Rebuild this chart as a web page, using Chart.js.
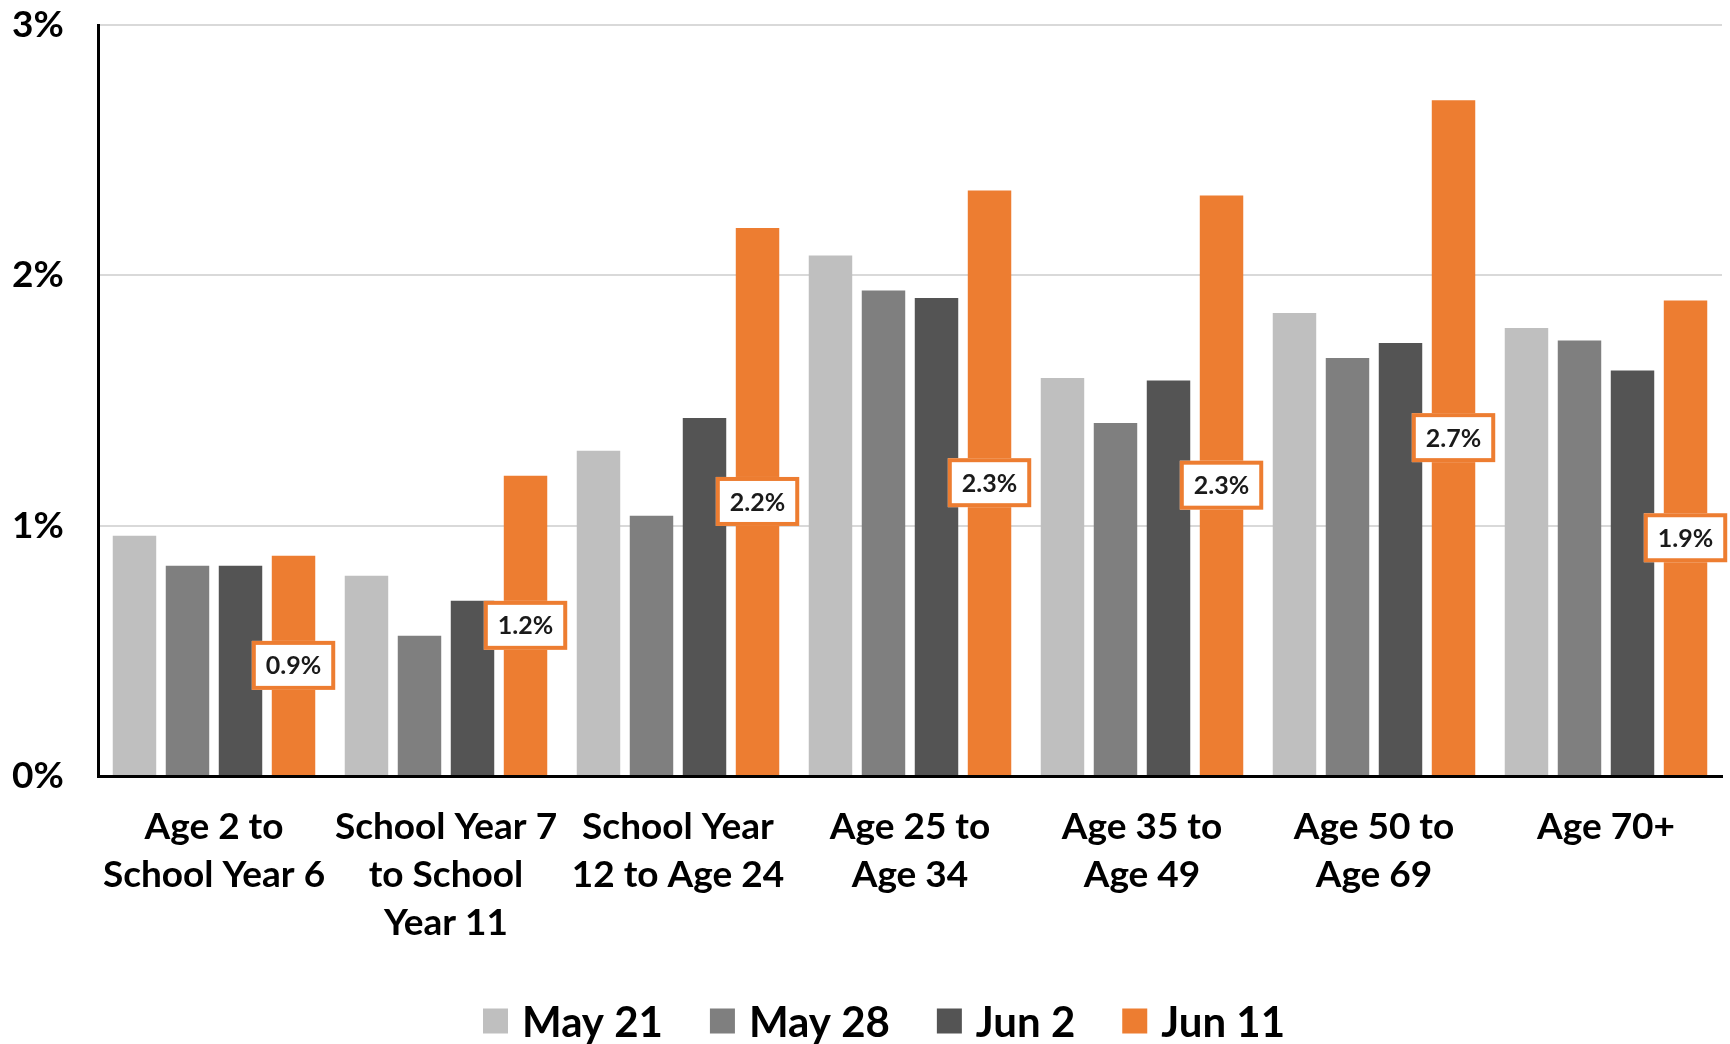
<!DOCTYPE html>
<html>
<head>
<meta charset="utf-8">
<script src="https://cdn.jsdelivr.net/npm/chart.js@4.4.1/dist/chart.umd.min.js"></script>
<style>
  body { margin: 0; background: #fff; }
  #wrap { width: 1730px; height: 1044px; }
</style>
</head>
<body>
<div id="wrap"><canvas id="ageChart"></canvas></div>
<script>
const categories = [
    ['Age 2 to', 'School Year 6'],
    ['School Year 7', 'to School', 'Year 11'],
    ['School Year', '12 to Age 24'],
    ['Age 25 to', 'Age 34'],
    ['Age 35 to', 'Age 49'],
    ['Age 50 to', 'Age 69'],
    ['Age 70+']
];
const seriesNames = ['May 21', 'May 28', 'Jun 2', 'Jun 11'];
const may21 = [0.96, 0.80, 1.30, 2.08, 1.59, 1.85, 1.79];
const may28 = [0.84, 0.56, 1.04, 1.94, 1.41, 1.67, 1.74];
const jun2  = [0.84, 0.70, 1.43, 1.91, 1.58, 1.73, 1.62];
const jun11 = [0.88, 1.20, 2.19, 2.34, 2.32, 2.70, 1.90];
const yTickValues = [0, 1, 2, 3];
const colors = ['#bfbfbf', '#7f7f7f', '#545454', '#ed7d31'];

const FONT = 'Lato, "Open Sans", sans-serif';

// boxed labels in the middle of the Jun 11 bars
const boxLabels = {
    id: 'boxLabels',
    afterDatasetsDraw(chart) {
        const ctx = chart.ctx;
        const meta = chart.getDatasetMeta(3);
        ctx.save();
        ctx.font = 'bold 25px ' + FONT;
        ctx.textAlign = 'center';
        ctx.textBaseline = 'middle';
        meta.data.forEach((bar, i) => {
            const txt = jun11[i].toFixed(1) + '%';
            const w = ctx.measureText(txt).width + 28;
            const h = 49;
            const cx = bar.x;
            const cy = (bar.y + bar.base) / 2;
            ctx.fillStyle = '#fff';
            ctx.fillRect(cx - w / 2, cy - h / 2, w, h);
            ctx.lineWidth = 4;
            ctx.strokeStyle = colors[3];
            ctx.strokeRect(cx - w / 2 + 2, cy - h / 2 + 2, w - 4, h - 4);
            ctx.fillStyle = '#1a1a1a';
            ctx.fillText(txt, cx, cy + 1);
        });
        ctx.restore();
    }
};

// legend drawn by hand so spacing matches
const bottomLegend = {
    id: 'bottomLegend',
    afterDraw(chart) {
        const ctx = chart.ctx;
        ctx.save();
        ctx.font = 'bold 42px ' + FONT;
        ctx.textBaseline = 'middle';
        const box = 25, gap = 14, itemGap = 47;
        const widths = seriesNames.map(n => box + gap + ctx.measureText(n).width);
        const total = widths.reduce((a, b) => a + b, 0) + itemGap * (widths.length - 1);
        let x = 884 - total / 2;
        const y = 1021;
        seriesNames.forEach((n, i) => {
            ctx.fillStyle = colors[i];
            ctx.fillRect(x, y - box / 2, box, box);
            ctx.fillStyle = '#000';
            ctx.fillText(n, x + box + gap, y + 2);
            x += widths[i] + itemGap;
        });
        ctx.restore();
    }
};

const allSeries = [may21, may28, jun2, jun11];

new Chart(document.getElementById('ageChart'), {
    type: 'bar',
    data: {
        labels: categories,
        datasets: allSeries.map((vals, i) => ({
            label: seriesNames[i],
            data: vals,
            backgroundColor: colors[i],
            borderWidth: 0,
            categoryPercentage: 0.914,
            barPercentage: 0.82
        }))
    },
    options: {
        responsive: true,
        maintainAspectRatio: false,
        animation: false,
        layout: { padding: { top: 24, right: 8, left: 12, bottom: 0 } },
        plugins: {
            legend: { display: false },
            tooltip: { enabled: false }
        },
        scales: {
            x: {
                grid: { display: false },
                border: { display: true, color: '#000', width: 3 },
                ticks: {
                    color: '#000',
                    padding: 19,
                    maxRotation: 0,
                    autoSkip: false,
                    font: { family: FONT, size: 37, weight: 'bold', lineHeight: 1.3 }
                },
                afterFit(scale) { scale.height = 268; }
            },
            y: {
                min: 0,
                max: 3,
                afterBuildTicks(scale) {
                    scale.ticks = yTickValues.map(v => ({ value: v }));
                },
                grid: { color: '#d9d9d9', lineWidth: 2, drawTicks: false },
                border: { display: true, color: '#000', width: 3 },
                ticks: {
                    color: '#000',
                    crossAlign: 'far',
                    callback: v => v + '%',
                    font: { family: FONT, size: 37, weight: 'bold' }
                },
                afterFit(scale) { scale.width = 86; }
            }
        }
    },
    plugins: [boxLabels, bottomLegend]
});
</script>
</body>
</html>
